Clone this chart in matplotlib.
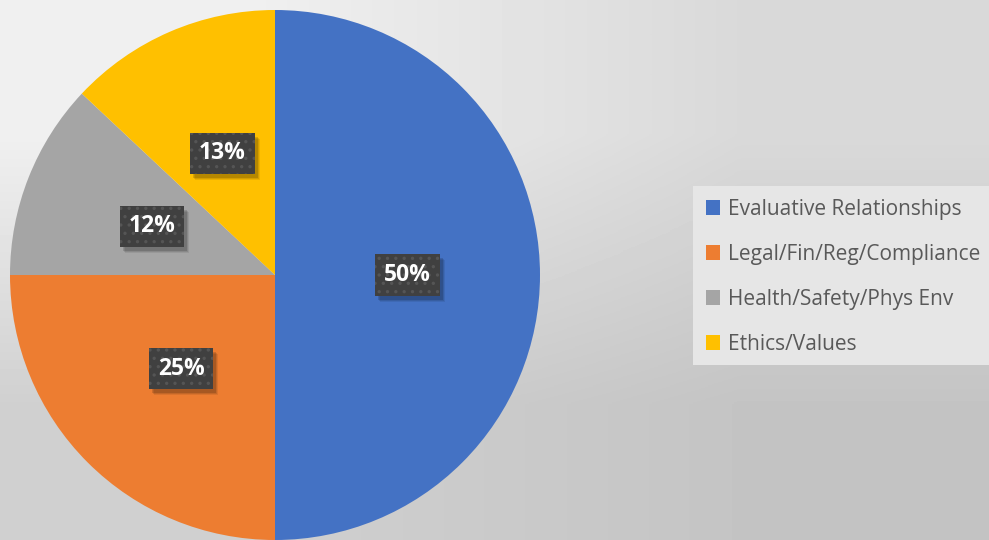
import matplotlib.pyplot as plt
import numpy as np
from matplotlib.patches import Rectangle

categories = ['Evaluative Relationships', 'Legal/Fin/Reg/Compliance',
              'Health/Safety/Phys Env', 'Ethics/Values']
shares = [50, 25, 12, 13]
colors = ['#4472C4', '#ED7D31', '#A5A5A5', '#FFC000']

W, H = 989, 540
fig = plt.figure(figsize=(W / 100, H / 100), dpi=100)
plt.rcParams['hatch.linewidth'] = 1.2

# background gradient (corner greys)
bg = fig.add_axes([0, 0, 1, 1], zorder=-10)
corners = np.array([[240, 217], [208, 196]]) / 255.0
bg.imshow(corners, cmap='gray', vmin=0, vmax=1, interpolation='bilinear',
          extent=[0, 1, 0, 1], aspect='auto', origin='upper')
bg.set_xlim(0, 1)
bg.set_ylim(0, 1)
bg.axis('off')

# pie: center (275, 275) px, radius 265 px
cx, cy, r = 275, 275, 265
ax = fig.add_axes([(cx - r) / W, (H - cy - r) / H, 2 * r / W, 2 * r / H])
wedges, texts, autotexts = ax.pie(
    shares, colors=colors, startangle=90, counterclock=False,
    autopct='%d%%', pctdistance=0.5, radius=1,
    wedgeprops=dict(linewidth=0),
    textprops=dict(color='white', fontsize=16.5, fontweight='bold',
                   family=['Open Sans', 'DejaVu Sans']))
ax.set_xlim(-1, 1)
ax.set_ylim(-1, 1)
ax.set_aspect('equal')
ax.axis('off')

# dark dotted label boxes
for t in autotexts:
    t.set_zorder(5)
    t.set_bbox(dict(boxstyle='square,pad=0.38', facecolor='#404040',
                    edgecolor='#555555', linewidth=0, hatch='..'))

# legend panel
fig.patches.append(Rectangle((693 / W, 1 - 365 / H), (W - 693) / W, (365 - 186) / H,
                             transform=fig.transFigure, facecolor='#e6e6e6',
                             edgecolor='none', zorder=0))
leg = fig.legend(wedges, categories, loc='center left',
                 bbox_to_anchor=(687 / W, 1 - 277 / H), frameon=False,
                 handlelength=0.7, handleheight=0.7, handletextpad=0.35,
                 labelspacing=1.15,
                 prop=dict(family=['Open Sans', 'DejaVu Sans'], size=15))
for txt in leg.get_texts():
    txt.set_color('#595959')

# soft drop shadows behind the label boxes
fig.canvas.draw()
for t in autotexts:
    bb = t.get_bbox_patch().get_window_extent()
    for k, a in [(6, 0.08), (5, 0.1), (4, 0.14)]:
        ax.add_patch(Rectangle(((bb.x0 + k - 1) / W, (bb.y0 - k) / H),
                               bb.width / W, bb.height / H,
                               transform=fig.transFigure, facecolor='black',
                               edgecolor='none', alpha=a, zorder=4))

fig.savefig('out.png', dpi=100)
